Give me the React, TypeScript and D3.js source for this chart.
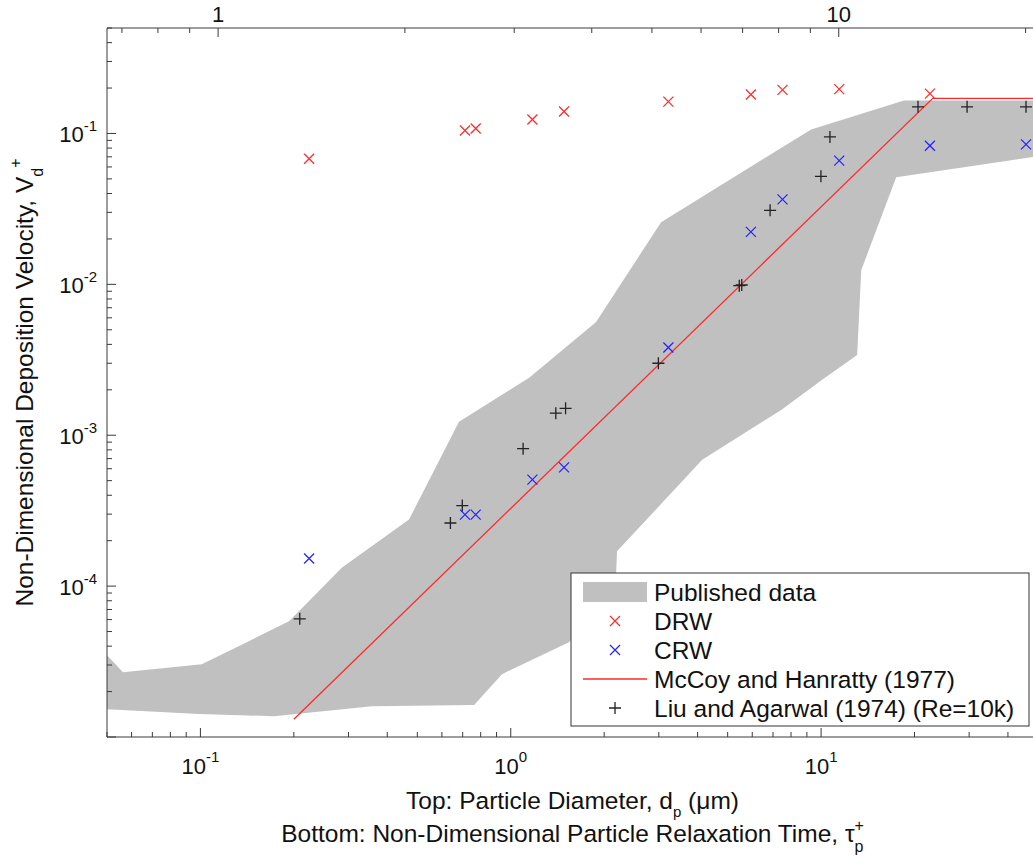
import React from 'react';
import * as d3 from 'd3';

// ---- Data ----
// Published data envelope (tau_p+, Vd+)
const pubUpperTau = [0.05, 0.0563, 0.101, 0.193, 0.286, 0.47, 0.681, 1.146, 1.884, 3.05, 9.29, 18.5, 50];
const pubUpperV = [3.48e-5, 2.69e-5, 3.03e-5, 5.84e-5, 1.33e-4, 2.76e-4, 1.23e-3, 2.4e-3, 5.63e-3, 0.0258, 0.1063, 0.1653, 0.1653];
const pubLowerTau = [0.05, 0.0989, 0.1725, 0.357, 0.762, 0.937, 1.54, 1.9, 2.185, 2.2, 4.14, 7.44, 10.08, 13.07, 13.47, 17.46, 50];
const pubLowerV = [1.53e-5, 1.42e-5, 1.375e-5, 1.6e-5, 1.63e-5, 2.61e-5, 4.24e-5, 7.0e-5, 1.195e-4, 1.7e-4, 6.88e-4, 1.47e-3, 2.33e-3, 3.4e-3, 0.01242, 0.0512, 0.0705];

// DRW
const drwTau = [0.224, 0.712, 0.771, 1.174, 1.485, 3.22, 5.94, 7.51, 11.44, 22.42];
const drwV = [0.068, 0.1047, 0.1079, 0.1238, 0.1398, 0.1627, 0.1811, 0.1945, 0.1969, 0.1838];
// CRW
const crwTau = [0.224, 0.712, 0.771, 1.174, 1.485, 3.22, 5.94, 7.51, 11.44, 22.42, 45.74];
const crwV = [1.524e-4, 2.98e-4, 2.98e-4, 5.08e-4, 6.12e-4, 3.815e-3, 0.02225, 0.0366, 0.0661, 0.0829, 0.0846];
// McCoy and Hanratty (1977)
const mhTau = [0.2, 22.9, 50];
const mhV = [1.31e-5, 0.171, 0.171];
// Liu and Agarwal (1974)
const liuTau = [0.209, 0.639, 0.698, 1.096, 1.397, 1.502, 2.99, 5.45, 5.55, 6.85, 9.99, 10.68, 20.53, 29.54, 45.74];
const liuV = [6.07e-5, 2.62e-4, 3.42e-4, 8.14e-4, 1.401e-3, 1.508e-3, 3.0e-3, 9.8e-3, 9.9e-3, 0.03096, 0.052, 0.0948, 0.1502, 0.1502, 0.1502];

// Axes
const tauDomain = [0.05, 50];
const vDomain = [1e-5, 0.5];
const tauPerDiam2 = 0.114; // tau+ = c * dp^2 (top axis relation)
const bottomTickValues = [0.1, 1, 10];
const bottomTickExps = ['-1', '0', '1'];
const leftTickValues = [1e-4, 1e-3, 1e-2, 1e-1];
const leftTickExps = ['-4', '-3', '-2', '-1'];
const topTickValues = [1, 10];
const topTickLabels = ['1', '10'];
const legendLabels = ['Published data', 'DRW', 'CRW', 'McCoy and Hanratty (1977)', 'Liu and Agarwal (1974) (Re=10k)'];

const FONT = '"Liberation Sans", Arial, Helvetica, sans-serif';
const GRAY = '#c0c0c0';
const RED = '#ff2a2a';
const BLUE = '#2222ff';
const BLACK = '#222222';
const AXIS = '#3a3a3a';

export default function App() {
  const W = 1033, H = 863;
  const L = 107, R = 1038, T = 28, B = 737;
  const x = d3.scaleLog().domain(tauDomain).range([L, R]);
  const y = d3.scaleLog().domain(vDomain).range([B, T]);
  const xTop = d3.scaleLog()
    .domain([Math.sqrt(tauDomain[0] / tauPerDiam2), Math.sqrt(tauDomain[1] / tauPerDiam2)])
    .range([L, R]);

  const pts: [number, number][] = [];
  pubUpperTau.forEach((t, i) => pts.push([t, pubUpperV[i]]));
  for (let i = pubLowerTau.length - 1; i >= 0; i--) pts.push([pubLowerTau[i], pubLowerV[i]]);
  const lineGen = d3.line<[number, number]>().x(d => x(d[0])).y(d => y(d[1]));
  const polyPath = lineGen(pts) + 'Z';
  const mhPath = lineGen(mhTau.map((t, i) => [t, mhV[i]] as [number, number]));

  const isMajor = (v: number) => Math.abs(Math.log10(v) - Math.round(Math.log10(v))) < 1e-6;
  const xTicks = x.ticks().filter(v => v >= tauDomain[0] && v <= tauDomain[1]);
  const yTicks = y.ticks().filter(v => v >= vDomain[0] && v <= vDomain[1]);
  const topTicks = xTop.ticks();

  const cross = (s: number) => `M${-s},${-s}L${s},${s}M${-s},${s}L${s},${-s}`;
  const plus = (s: number) => `M${-s},0L${s},0M0,${-s}L0,${s}`;

  const legX = 571, legY = 573, legW = 458, legH = 153;
  const rowY = (i: number) => legY + 19 + i * 29;

  return (
    <svg width={W} height={H} style={{ position: 'absolute', left: 0, top: 0, background: '#fff' }} fontFamily={FONT}>
      <defs>
        <clipPath id="plotclip">
          <rect x={L} y={T} width={R - L} height={B - T} />
        </clipPath>
      </defs>
      <rect x={0} y={0} width={W} height={H} fill="#fff" />
      <g clipPath="url(#plotclip)">
        <path d={polyPath} fill={GRAY} stroke="none" />
        <path d={mhPath || ''} fill="none" stroke={RED} strokeWidth={1.3} />
        {drwTau.map((t, i) => (
          <path key={'d' + i} d={cross(5)} transform={`translate(${x(t)},${y(drwV[i])})`} stroke={RED} strokeWidth={1.2} fill="none" />
        ))}
        {crwTau.map((t, i) => (
          <path key={'c' + i} d={cross(5)} transform={`translate(${x(t)},${y(crwV[i])})`} stroke={BLUE} strokeWidth={1.2} fill="none" />
        ))}
        {liuTau.map((t, i) => (
          <path key={'l' + i} d={plus(6)} transform={`translate(${x(t)},${y(liuV[i])})`} stroke={BLACK} strokeWidth={1.3} fill="none" />
        ))}
      </g>

      {/* axes lines */}
      <line x1={L} x2={R} y1={T} y2={T} stroke={AXIS} strokeWidth={1} />
      <line x1={L} x2={R} y1={B} y2={B} stroke={AXIS} strokeWidth={1} />
      <line x1={L} x2={L} y1={T} y2={B} stroke={AXIS} strokeWidth={1} />
      <line x1={R} x2={R} y1={T} y2={B} stroke={AXIS} strokeWidth={1} />

      {/* bottom ticks */}
      {xTicks.map((v, i) => {
        const len = isMajor(v) ? 9 : 5;
        return <line key={'xb' + i} x1={x(v)} x2={x(v)} y1={B} y2={B - len} stroke={AXIS} strokeWidth={1} />;
      })}
      {/* top ticks (particle diameter) */}
      {topTicks.map((v, i) => {
        const len = isMajor(v) ? 9 : 5;
        return <line key={'xt' + i} x1={xTop(v)} x2={xTop(v)} y1={T} y2={T + len} stroke={AXIS} strokeWidth={1} />;
      })}
      {/* left ticks */}
      {yTicks.map((v, i) => {
        const len = isMajor(v) ? 9 : 5;
        return <line key={'yl' + i} x1={L} x2={L + len} y1={y(v)} y2={y(v)} stroke={AXIS} strokeWidth={1} />;
      })}

      {/* tick labels */}
      {bottomTickValues.map((v, i) => (
        <text key={'bl' + i} x={x(v)} y={774} textAnchor="middle" fontSize={22} fill="#111">
          10<tspan dy={-12} fontSize={15}>{bottomTickExps[i]}</tspan>
        </text>
      ))}
      {leftTickValues.map((v, i) => (
        <text key={'ll' + i} x={97} y={y(v) + 8.5} textAnchor="end" fontSize={22} fill="#111">
          10<tspan dy={-11} fontSize={15}>{leftTickExps[i]}</tspan>
        </text>
      ))}
      {topTickValues.map((v, i) => (
        <text key={'tl' + i} x={xTop(v)} y={21.5} textAnchor="middle" fontSize={22} fill="#111">
          {topTickLabels[i]}
        </text>
      ))}

      {/* axis labels */}
      <text x={(L + R) / 2} y={809} textAnchor="middle" fontSize={24.5} fill="#111">
        Top: Particle Diameter, d<tspan dy={8} fontSize={15}>p</tspan><tspan dy={-8}> (μm)</tspan>
      </text>
      <text x={(L + R) / 2} y={842} textAnchor="middle" fontSize={24.5} fill="#111">
        Bottom: Non-Dimensional Particle Relaxation Time, τ<tspan dy={10} fontSize={16}>p</tspan><tspan dx={-9} dy={-21} fontSize={16}>+</tspan>
      </text>
      <text transform={`translate(33,${(T + B) / 2}) rotate(-90)`} textAnchor="middle" fontSize={24.5} fill="#111">
        Non-Dimensional Deposition Velocity, V<tspan dy={10} fontSize={16}>d</tspan><tspan dy={-22} fontSize={16}>+</tspan>
      </text>

      {/* legend */}
      <rect x={legX} y={legY} width={legW} height={legH} fill="#fff" stroke="#333" strokeWidth={1} />
      <rect x={583} y={rowY(0) - 10} width={64} height={20} fill={GRAY} />
      <path d={cross(5)} transform={`translate(615,${rowY(1)})`} stroke={RED} strokeWidth={1.2} fill="none" />
      <path d={cross(5)} transform={`translate(615,${rowY(2)})`} stroke={BLUE} strokeWidth={1.2} fill="none" />
      <line x1={583} x2={647} y1={rowY(3)} y2={rowY(3)} stroke={RED} strokeWidth={1.3} />
      <path d={plus(6)} transform={`translate(615,${rowY(4)})`} stroke={BLACK} strokeWidth={1.3} fill="none" />
      {legendLabels.map((lab, i) => (
        <text key={'lg' + i} x={654} y={rowY(i) + 8.8} fontSize={24.5} fill="#111">{lab}</text>
      ))}
    </svg>
  );
}
